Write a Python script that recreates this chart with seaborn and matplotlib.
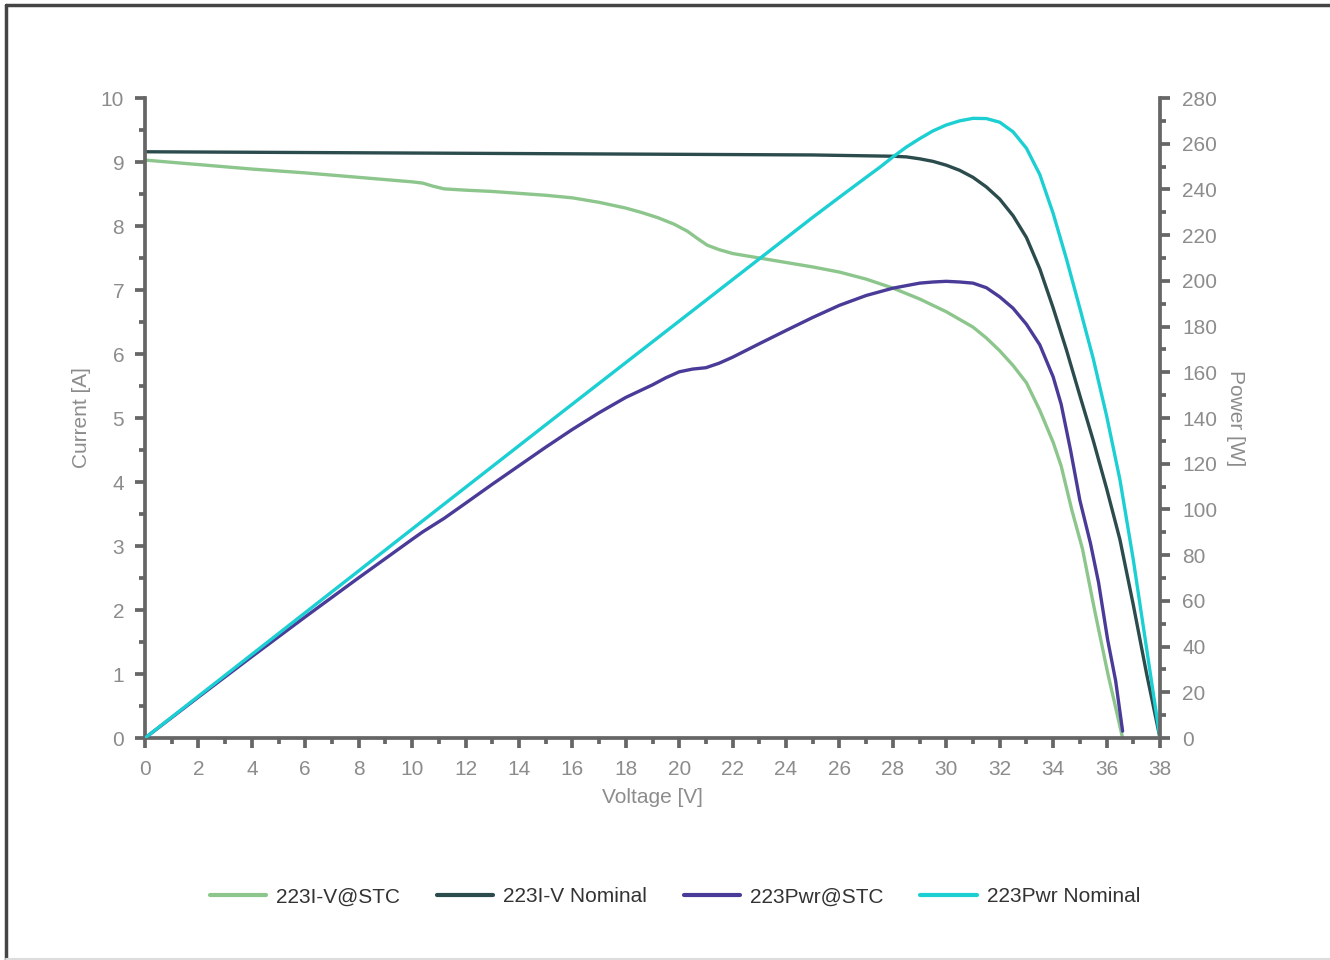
import matplotlib
matplotlib.use("Agg")
import matplotlib.pyplot as plt
import seaborn as sns
import pandas as pd
from matplotlib.ticker import MultipleLocator
from matplotlib.lines import Line2D

# ---------------- data ----------------
v_iv_stc = [0, 2, 4, 6, 8, 10, 10.4, 10.8, 11.2, 12, 13, 14, 15, 16, 17, 18, 18.6,
            19.2, 19.8, 20.3, 20.7, 21.05, 21.5, 22, 23, 24, 25, 26, 27, 28, 29, 30,
            31, 31.5, 32, 32.5, 33, 33.5, 34, 34.3, 34.7, 35.1, 35.55, 36.05, 36.3, 36.6]
i_iv_stc = [9.03, 8.96, 8.89, 8.83, 8.76, 8.69, 8.67, 8.62, 8.58, 8.56, 8.54, 8.51, 8.48,
            8.44, 8.37, 8.28, 8.21, 8.13, 8.03, 7.92, 7.80, 7.70, 7.63, 7.57, 7.50, 7.43,
            7.36, 7.28, 7.17, 7.03, 6.86, 6.66, 6.42, 6.25, 6.05, 5.82, 5.55, 5.12, 4.62,
            4.25, 3.56, 2.95, 2.00, 1.00, 0.55, 0.0]

v_iv_nom = [0, 10, 20, 25, 28, 28.5, 29, 29.5, 30, 30.5, 31, 31.5, 32, 32.5, 33, 33.5,
            34, 34.5, 35, 35.5, 36, 36.5, 37, 37.5, 38]
i_iv_nom = [9.16, 9.14, 9.12, 9.11, 9.09, 9.08, 9.05, 9.01, 8.95, 8.87, 8.76, 8.61, 8.42,
            8.16, 7.82, 7.33, 6.72, 6.06, 5.35, 4.65, 3.90, 3.10, 2.08, 1.00, 0.0]

v_pwr_stc = [0, 2, 4, 6, 8, 10, 10.4, 11.2, 12, 13, 14, 15, 16, 17, 18, 19, 19.5, 20,
             20.5, 21, 21.5, 22, 23, 24, 25, 26, 27, 28, 29, 29.5, 30, 30.5, 31, 31.5, 32,
             32.5, 33, 33.5, 34, 34.3, 34.65, 35, 35.4, 35.7, 36.04, 36.34, 36.6]
p_pwr_stc = [0, 17.9, 35.6, 53.0, 70.1, 86.9, 90.2, 96.1, 102.7, 111.0, 119.1, 127.2,
             135.0, 142.3, 149.0, 154.5, 157.6, 160.2, 161.4, 162.0, 164.0, 166.6, 172.5,
             178.3, 184.0, 189.3, 193.6, 196.8, 199.0, 199.5, 199.8, 199.5, 199.0, 197.0,
             193.0, 188.0, 181.0, 172.0, 158.0, 146.0, 126.0, 104.0, 85.0, 68.0, 43.0,
             25.0, 3.0]

v_pwr_nom = [0, 5, 10, 15, 20, 25, 26, 27, 27.5, 28, 28.5, 29, 29.5, 30, 30.5, 31, 31.5,
             32, 32.5, 33, 33.5, 34, 34.5, 35, 35.5, 36, 36.5, 37, 37.5, 38]
p_pwr_nom = [0, 45.7, 91.4, 137.0, 182.4, 227.8, 236.6, 245.3, 249.6, 254.2, 258.5, 262.2,
             265.6, 268.2, 270.0, 271.1, 271.0, 269.4, 265.2, 258.0, 246.5, 229.5, 209.5,
             188.0, 166.0, 141.0, 113.0, 78.0, 39.0, 0.0]

labels = ["223I-V@STC", "223I-V Nominal", "223Pwr@STC", "223Pwr Nominal"]
colors = ["#8cc68c", "#2b4b4d", "#4a3b98", "#1ccfd3"]

# ---------------- styling ----------------
sns.set_theme(style="white")
plt.rcParams['font.family'] = ['Liberation Sans', 'DejaVu Sans']

AX_C = "#666666"
TXT_C = "#8c8c8c"
FS = 15
LW = 2.4
TW = 2.7

fig = plt.figure(figsize=(13.3, 9.6), dpi=100)
fig.patch.set_facecolor("white")
ax = fig.add_axes([145 / 1330, 1 - 738 / 960, (1160 - 145) / 1330, (738 - 98) / 960])
ax2 = ax.twinx()

df_a = pd.DataFrame({"V": v_iv_stc, "I": i_iv_stc})
df_b = pd.DataFrame({"V": v_iv_nom, "I": i_iv_nom})
df_c = pd.DataFrame({"V": v_pwr_stc, "P": p_pwr_stc})
df_d = pd.DataFrame({"V": v_pwr_nom, "P": p_pwr_nom})

sns.lineplot(data=df_a, x="V", y="I", ax=ax, color=colors[0], linewidth=LW, legend=False)
sns.lineplot(data=df_b, x="V", y="I", ax=ax, color=colors[1], linewidth=LW, legend=False)
sns.lineplot(data=df_c, x="V", y="P", ax=ax2, color=colors[2], linewidth=LW, legend=False)
sns.lineplot(data=df_d, x="V", y="P", ax=ax2, color=colors[3], linewidth=LW, legend=False)

ax.set_xlim(0, 38)
ax.set_ylim(0, 10)
ax2.set_ylim(0, 280)

ax.xaxis.set_major_locator(MultipleLocator(2))
ax.xaxis.set_minor_locator(MultipleLocator(1))
ax.yaxis.set_major_locator(MultipleLocator(1))
ax.yaxis.set_minor_locator(MultipleLocator(0.5))
ax2.yaxis.set_major_locator(MultipleLocator(20))
ax2.yaxis.set_minor_locator(MultipleLocator(10))

for a in (ax, ax2):
    for s in a.spines.values():
        s.set_visible(False)
        s.set_color(AX_C)
        s.set_linewidth(TW)
    a.set_facecolor("none")
    a.grid(False)
ax.spines["left"].set_visible(True)
ax.spines["bottom"].set_visible(True)
ax2.spines["right"].set_visible(True)

ax.tick_params(axis="both", which="both", direction="out", color=AX_C, width=TW,
               bottom=True, left=True, right=False, top=False)
ax.tick_params(axis="both", which="major", length=7, labelsize=FS, labelcolor=TXT_C)
ax.tick_params(axis="both", which="minor", length=4.5)
ax.tick_params(axis="x", which="major", pad=9)
ax.tick_params(axis="y", which="major", pad=8)
ax2.tick_params(axis="y", which="both", direction="out", color=AX_C, width=TW,
                right=True, left=False)
ax2.tick_params(axis="y", which="major", length=7, labelsize=FS, labelcolor=TXT_C, pad=9)
ax2.tick_params(axis="y", which="minor", length=4.5)

ax.set_xlabel("Voltage [V]", fontsize=FS, color=TXT_C, labelpad=6)
ax.set_ylabel("Current [A]", fontsize=FS, color=TXT_C, labelpad=7)
ax2.set_ylabel("Power [W]", fontsize=FS, color=TXT_C, rotation=270, labelpad=20)

# legend
handles = [Line2D([0], [0], color=c, linewidth=3) for c in colors]
leg = fig.legend(handles, labels, loc="center", bbox_to_anchor=(675 / 1330, 1 - 897 / 960),
                 ncol=4, frameon=False, fontsize=FS, handlelength=2.7, handletextpad=0.5,
                 columnspacing=1.75)
for t in leg.get_texts():
    t.set_color("#333333")

# outer frame
fig.add_artist(Line2D([6 / 1330, 6 / 1330], [0, 1 - 5 / 960], transform=fig.transFigure,
                      color="#444444", linewidth=2.5))
fig.add_artist(Line2D([6 / 1330, 1], [1 - 5 / 960, 1 - 5 / 960], transform=fig.transFigure,
                      color="#444444", linewidth=2.5))
fig.add_artist(Line2D([6 / 1330, 1], [1.5 / 960, 1.5 / 960], transform=fig.transFigure,
                      color="#dddddd", linewidth=1.5))

fig.savefig("out.png", dpi=100)
